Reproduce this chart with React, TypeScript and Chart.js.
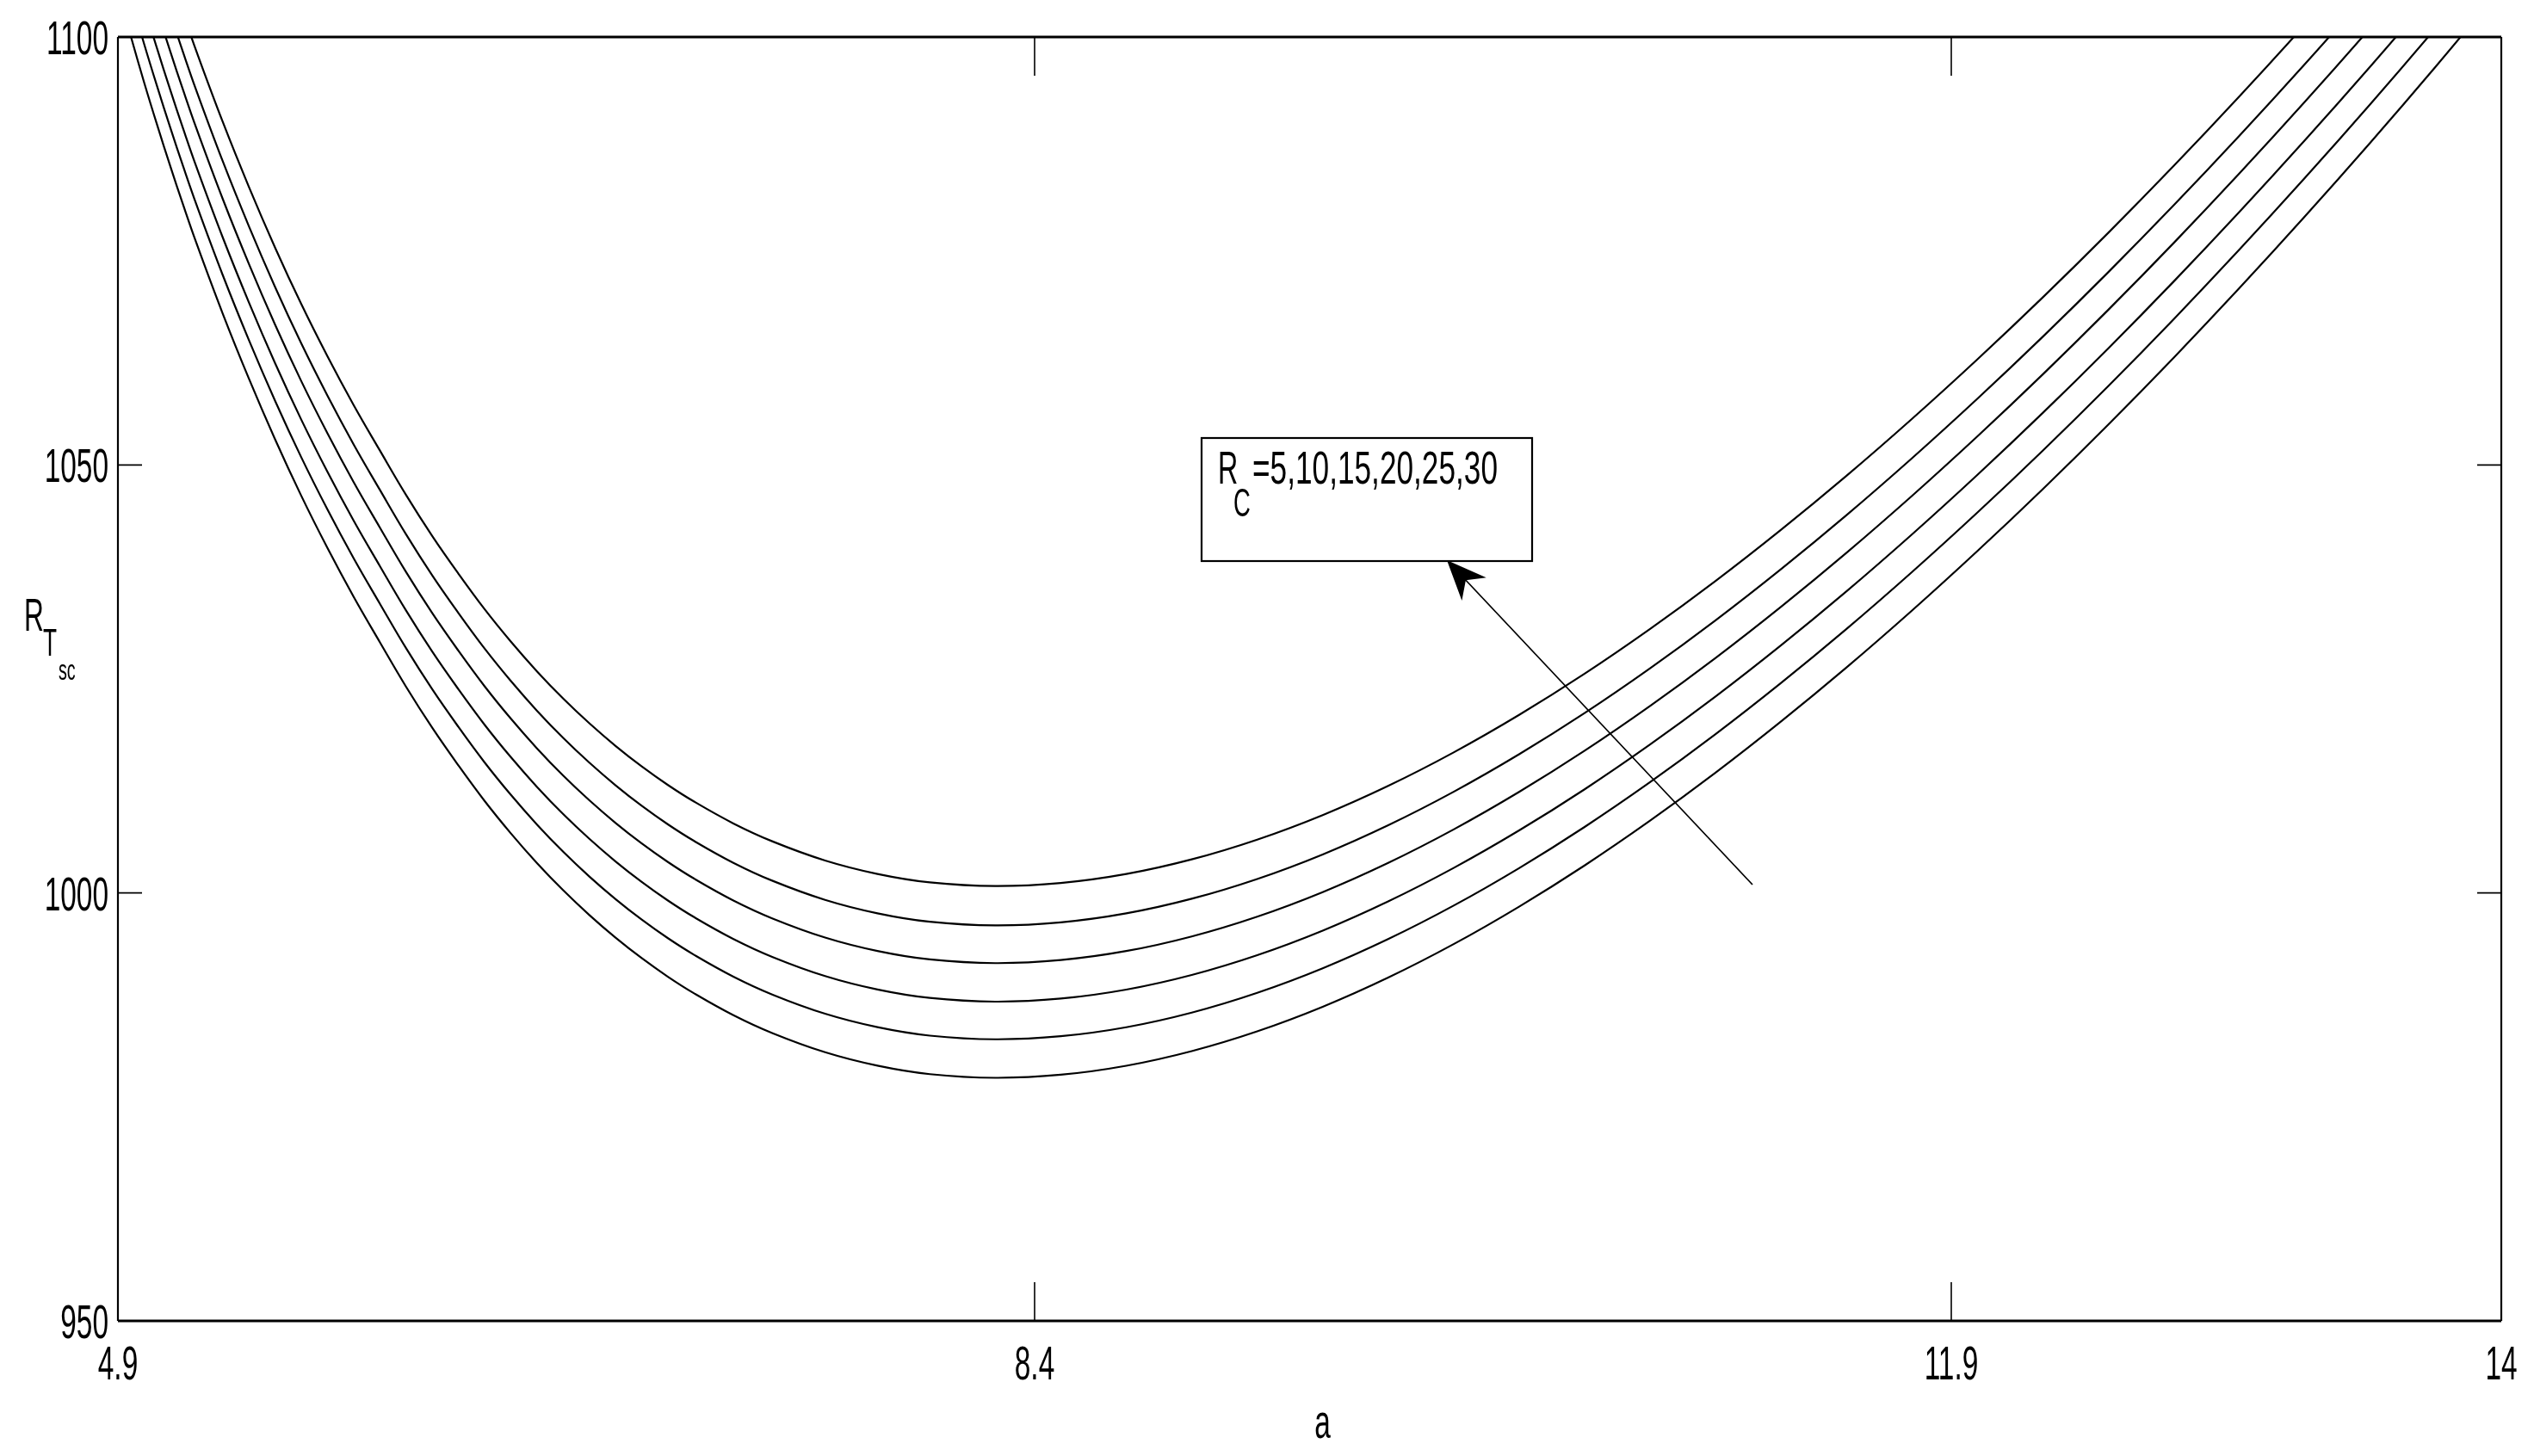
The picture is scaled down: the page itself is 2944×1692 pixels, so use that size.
import React, { useEffect, useRef } from "react";
import { Chart, registerables } from "chart.js";
Chart.register(...registerables);

// wavenumber a
const A_VALUES = [4.9, 4.95, 5.0, 5.05, 5.1, 5.15, 5.2, 5.3, 5.4, 5.5, 5.6, 5.7, 5.8, 5.9, 6.0, 6.1, 6.2, 6.3, 6.4, 6.5, 6.6, 6.7, 6.8, 6.9, 7.0, 7.1, 7.25, 7.4, 7.6, 7.8, 8.0, 8.25, 8.5, 8.75, 9.0, 9.25, 9.5, 9.75, 10.0, 10.25, 10.5, 10.75, 11.0, 11.25, 11.5, 11.75, 12.0, 12.25, 12.5, 12.75, 13.0, 13.25, 13.5, 13.75, 14.0];

const RC_LABELS = ["R_C=5", "R_C=10", "R_C=15", "R_C=20", "R_C=25", "R_C=30"];

const RT_RC5 = [1105.6, 1100.0, 1094.7, 1089.7, 1084.9, 1080.3, 1075.9, 1067.7, 1060.1, 1053.0, 1046.4, 1040.3, 1034.6, 1029.3, 1024.1, 1019.3, 1014.9, 1010.75, 1006.97, 1003.49, 1000.31, 997.42, 994.78, 992.38, 990.21, 988.27, 985.72, 983.61, 981.39, 979.82, 978.83, 978.40, 978.76, 979.81, 981.52, 983.83, 986.70, 990.11, 994.02, 998.40, 1003.21, 1008.44, 1014.05, 1020.03, 1026.34, 1032.99, 1039.95, 1047.20, 1054.74, 1062.56, 1070.66, 1079.03, 1087.66, 1096.56, 1105.74];
const RT_RC10 = [1110.1, 1104.5, 1099.2, 1094.2, 1089.4, 1084.8, 1080.4, 1072.2, 1064.6, 1057.5, 1050.9, 1044.8, 1039.1, 1033.8, 1028.6, 1023.8, 1019.4, 1015.25, 1011.47, 1007.99, 1004.81, 1001.92, 999.28, 996.88, 994.71, 992.77, 990.22, 988.11, 985.89, 984.32, 983.33, 982.90, 983.26, 984.31, 986.02, 988.33, 991.20, 994.61, 998.52, 1002.90, 1007.71, 1012.94, 1018.55, 1024.53, 1030.84, 1037.49, 1044.45, 1051.70, 1059.24, 1067.06, 1075.16, 1083.53, 1092.16, 1101.06, 1110.24];
const RT_RC15 = [1114.5, 1108.9, 1103.6, 1098.6, 1093.8, 1089.2, 1084.8, 1076.6, 1069.0, 1061.9, 1055.3, 1049.2, 1043.5, 1038.2, 1033.0, 1028.2, 1023.8, 1019.65, 1015.87, 1012.39, 1009.21, 1006.32, 1003.68, 1001.28, 999.11, 997.17, 994.62, 992.51, 990.29, 988.72, 987.73, 987.30, 987.66, 988.71, 990.42, 992.73, 995.60, 999.01, 1002.92, 1007.30, 1012.11, 1017.34, 1022.95, 1028.93, 1035.24, 1041.89, 1048.85, 1056.10, 1063.64, 1071.46, 1079.56, 1087.93, 1096.56, 1105.46, 1114.64];
const RT_RC20 = [1119.0, 1113.4, 1108.1, 1103.1, 1098.3, 1093.7, 1089.3, 1081.1, 1073.5, 1066.4, 1059.8, 1053.7, 1048.0, 1042.7, 1037.5, 1032.7, 1028.3, 1024.15, 1020.37, 1016.89, 1013.71, 1010.82, 1008.18, 1005.78, 1003.61, 1001.67, 999.12, 997.01, 994.79, 993.22, 992.23, 991.80, 992.16, 993.21, 994.92, 997.23, 1000.10, 1003.51, 1007.42, 1011.80, 1016.61, 1021.84, 1027.45, 1033.43, 1039.74, 1046.39, 1053.35, 1060.60, 1068.14, 1075.96, 1084.06, 1092.43, 1101.06, 1109.96, 1119.14];
const RT_RC25 = [1123.4, 1117.8, 1112.5, 1107.5, 1102.7, 1098.1, 1093.7, 1085.5, 1077.9, 1070.8, 1064.2, 1058.1, 1052.4, 1047.1, 1041.9, 1037.1, 1032.7, 1028.55, 1024.77, 1021.29, 1018.11, 1015.22, 1012.58, 1010.18, 1008.01, 1006.07, 1003.52, 1001.41, 999.19, 997.62, 996.63, 996.20, 996.56, 997.61, 999.32, 1001.63, 1004.50, 1007.91, 1011.82, 1016.20, 1021.01, 1026.24, 1031.85, 1037.83, 1044.14, 1050.79, 1057.75, 1065.00, 1072.54, 1080.36, 1088.46, 1096.83, 1105.46, 1114.36, 1123.54];
const RT_RC30 = [1128.0, 1122.4, 1117.1, 1112.1, 1107.3, 1102.7, 1098.3, 1090.1, 1082.5, 1075.4, 1068.8, 1062.7, 1057.0, 1051.7, 1046.5, 1041.7, 1037.3, 1033.15, 1029.37, 1025.89, 1022.71, 1019.82, 1017.18, 1014.78, 1012.61, 1010.67, 1008.12, 1006.01, 1003.79, 1002.22, 1001.23, 1000.80, 1001.16, 1002.21, 1003.92, 1006.23, 1009.10, 1012.51, 1016.42, 1020.80, 1025.61, 1030.84, 1036.45, 1042.43, 1048.74, 1055.39, 1062.35, 1069.60, 1077.14, 1084.96, 1093.06, 1101.43, 1110.06, 1118.96, 1128.14];

const SERIES = [RT_RC5, RT_RC10, RT_RC15, RT_RC20, RT_RC25, RT_RC30];

const X_TICKS = [4.9, 8.4, 11.9, 14];
const X_TICK_LABELS = ["4.9", "8.4", "11.9", "14"];
const Y_TICKS = [950, 1000, 1050, 1100];
const Y_TICK_LABELS = ["950", "1000", "1050", "1100"];
const X_MIN = 4.9, X_MAX = 14, Y_MIN = 950, Y_MAX = 1100;
const X_TITLE = "a";
const Y_TITLE_MAIN = "R";
const Y_TITLE_SUB = "T";
const Y_TITLE_SUBSUB = "sc";
const NOTE_MAIN = "R";
const NOTE_SUB = "C";
const NOTE_REST = "=5,10,15,20,25,30";

const FONT = '"Liberation Sans", Arial, sans-serif';

function condense(ctx: CanvasRenderingContext2D, size: number) {
  ctx.save();
  ctx.font = `${size}px ${FONT}`;
  const w = ctx.measureText("0000").width / 4;
  ctx.restore();
  return (0.332 * size) / w;
}

function drawText(ctx: CanvasRenderingContext2D, text: string, x: number, y: number, size: number, align: string, sx: number) {
  ctx.save();
  ctx.font = `${size}px ${FONT}`;
  ctx.textAlign = "left";
  ctx.textBaseline = "alphabetic";
  const w = ctx.measureText(text).width * sx;
  const left = align === "left" ? x : align === "right" ? x - w : x - w / 2;
  ctx.translate(left, y);
  ctx.scale(sx, 1);
  ctx.fillStyle = "#000";
  ctx.fillText(text, 0, 0);
  ctx.restore();
}

function fitScale(ctx: CanvasRenderingContext2D, text: string, size: number, width: number) {
  ctx.save();
  ctx.font = `${size}px ${FONT}`;
  const w = ctx.measureText(text).width;
  ctx.restore();
  return width / w;
}

const decorPlugin = {
  id: "decor",
  afterDatasetsDraw(chart: any) {
    const ctx: CanvasRenderingContext2D = chart.ctx;
    const { left, right, top, bottom } = chart.chartArea;
    const xs = chart.scales.x;
    const ys = chart.scales.y;
    const sx = condense(ctx, 56);
    ctx.save();
    ctx.strokeStyle = "#000";
    ctx.lineCap = "butt";
    // frame
    ctx.lineWidth = 3;
    ctx.beginPath();
    ctx.moveTo(left, bottom); ctx.lineTo(right, bottom);
    ctx.moveTo(left, top); ctx.lineTo(right, top);
    ctx.stroke();
    ctx.lineWidth = 2.2;
    ctx.beginPath();
    ctx.moveTo(left, top); ctx.lineTo(left, bottom);
    ctx.moveTo(right, top); ctx.lineTo(right, bottom);
    ctx.stroke();
    // ticks (inward)
    ctx.lineWidth = 1.6;
    ctx.beginPath();
    X_TICKS.forEach((v) => {
      const px = xs.getPixelForValue(v);
      ctx.moveTo(px, bottom); ctx.lineTo(px, bottom - 45);
      ctx.moveTo(px, top); ctx.lineTo(px, top + 45);
    });
    Y_TICKS.forEach((v) => {
      const py = ys.getPixelForValue(v);
      ctx.moveTo(left, py); ctx.lineTo(left + 28, py);
      ctx.moveTo(right, py); ctx.lineTo(right - 28, py);
    });
    ctx.stroke();
    // tick labels
    X_TICKS.forEach((v, i) => {
      const px = xs.getPixelForValue(v);
      drawText(ctx, X_TICK_LABELS[i], px, bottom + 68, 56, "center", sx);
    });
    Y_TICKS.forEach((v, i) => {
      const py = ys.getPixelForValue(v);
      drawText(ctx, Y_TICK_LABELS[i], left - 11, py + 20, 56, "right", sx);
    });
    // axis titles
    drawText(ctx, X_TITLE, (left + right) / 2 + 15, bottom + 136, 56, "center", sx);
    drawText(ctx, Y_TITLE_MAIN, 28, 733, 53, "left", sx);
    drawText(ctx, Y_TITLE_SUB, 50, 762, 44, "left", sx);
    drawText(ctx, Y_TITLE_SUBSUB, 68, 790, 33, "left", sx);
    // annotation box
    ctx.lineWidth = 2.2;
    ctx.strokeRect(1396, 509, 384, 143);
    drawText(ctx, NOTE_MAIN, 1415, 562, 54, "left", sx);
    drawText(ctx, NOTE_SUB, 1433, 600, 46, "left", sx);
    drawText(ctx, NOTE_REST, 1455, 562, 54, "left", fitScale(ctx, NOTE_REST, 54, 285));
    // arrow
    const tx = 1681, ty = 651, sx0 = 2036, sy0 = 1028;
    ctx.lineWidth = 1.8;
    ctx.beginPath();
    ctx.moveTo(sx0, sy0); ctx.lineTo(tx + 18, ty + 19);
    ctx.stroke();
    const ang = Math.atan2(sy0 - ty, sx0 - tx);
    const spread = 0.4, len = 50;
    const w1x = tx + len * Math.cos(ang - spread), w1y = ty + len * Math.sin(ang - spread);
    const w2x = tx + len * Math.cos(ang + spread), w2y = ty + len * Math.sin(ang + spread);
    const nx = tx + 32 * Math.cos(ang), ny = ty + 32 * Math.sin(ang);
    ctx.fillStyle = "#000";
    ctx.beginPath();
    ctx.moveTo(tx, ty); ctx.lineTo(w1x, w1y); ctx.lineTo(nx, ny); ctx.lineTo(w2x, w2y); ctx.closePath();
    ctx.fill();
    ctx.restore();
  },
};

export default function App() {
  const ref = useRef<HTMLCanvasElement | null>(null);
  useEffect(() => {
    document.body.style.margin = "0";
    const canvas = ref.current;
    if (!canvas) return;
    const chart = new Chart(canvas, {
      type: "line",
      data: {
        datasets: SERIES.map((s, i) => ({
          label: RC_LABELS[i],
          data: A_VALUES.map((a, j) => ({ x: a, y: s[j] })),
          borderColor: "#000",
          borderWidth: 2.2,
          pointRadius: 0,
          fill: false,
          tension: 0.4,
        })),
      },
      options: {
        responsive: false,
        animation: false,
        devicePixelRatio: 1,
        layout: { padding: { left: 137, top: 43, right: 38, bottom: 157 } },
        plugins: { legend: { display: false }, tooltip: { enabled: false } },
        events: [],
        scales: {
          x: { type: "linear", min: X_MIN, max: X_MAX, display: false },
          y: { type: "linear", min: Y_MIN, max: Y_MAX, display: false },
        },
      },
      plugins: [decorPlugin],
    });
    return () => chart.destroy();
  }, []);
  return (
    <div style={{ position: "fixed", left: 0, top: 0, width: 2944, height: 1692, background: "#fff" }}>
      <canvas ref={ref} width={2944} height={1692} style={{ display: "block" }} />
    </div>
  );
}
